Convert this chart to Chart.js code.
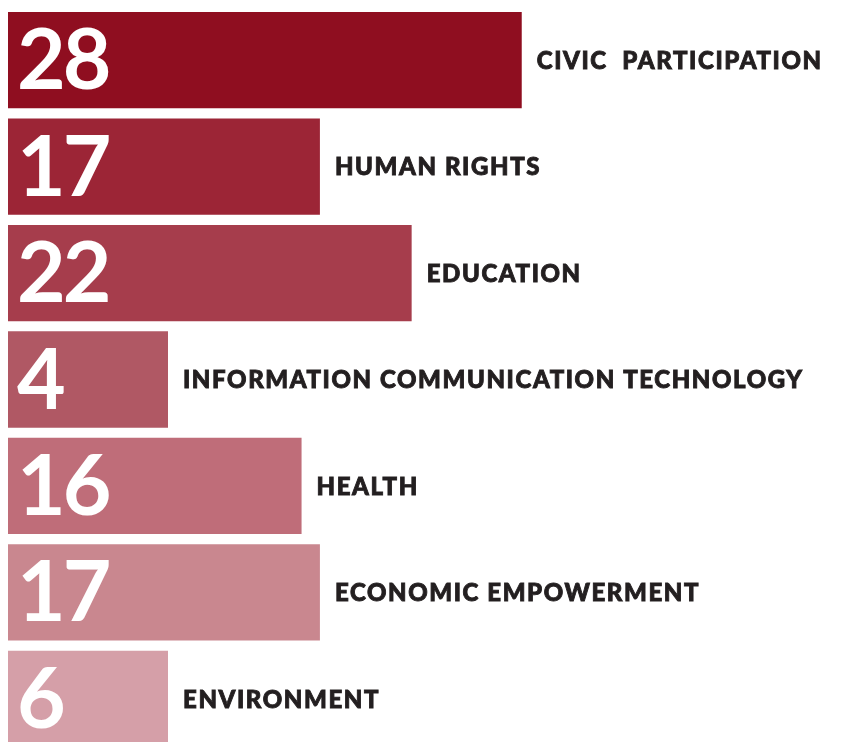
<!DOCTYPE html>
<html>
<head>
<meta charset="utf-8">
<style>
  html, body { margin: 0; padding: 0; background: #fff; overflow: hidden; }
  #wrap { position: relative; width: 852px; height: 752px; }
</style>
<script src="https://cdn.jsdelivr.net/npm/chart.js@4/dist/chart.umd.min.js"></script>
</head>
<body>
<div id="wrap"><canvas id="chart"></canvas></div>
<script>
  /* ---------- Data ---------- */
  var CATEGORIES = [
    'CIVIC  PARTICIPATION',
    'HUMAN RIGHTS',
    'EDUCATION',
    'INFORMATION COMMUNICATION TECHNOLOGY',
    'HEALTH',
    'ECONOMIC EMPOWERMENT',
    'ENVIRONMENT'
  ];
  var COUNTS = [28, 17, 22, 4, 16, 17, 6];
  var BAR_COLORS = ['#8f0e20', '#9c2536', '#a63d4c', '#b05864', '#bf6d79', '#c9878f', '#d59fa8'];

  /* ---------- Labels plugin ---------- */
  var barLabels = {
    id: 'barLabels',
    afterDatasetsDraw: function (chart) {
      var ctx = chart.ctx;
      var meta = chart.getDatasetMeta(0);
      ctx.save();
      ctx.textBaseline = 'middle';
      ctx.textAlign = 'left';
      meta.data.forEach(function (bar, i) {
        // big count inside bar
        ctx.fillStyle = '#ffffff';
        ctx.letterSpacing = '-3px';
        ctx.font = 'bold 84px Lato, "Open Sans", sans-serif';
        ctx.fillText(String(COUNTS[i]), bar.base + 9, bar.y + 2);
        // category name after the bar (stroked a little to look heavier)
        ctx.fillStyle = '#231f20';
        ctx.strokeStyle = '#231f20';
        ctx.lineWidth = 0.9;
        ctx.letterSpacing = '1.6px';
        ctx.font = '900 24px Lato, "Open Sans", sans-serif';
        ctx.fillText(CATEGORIES[i], bar.x + 15, bar.y + 1);
        ctx.strokeText(CATEGORIES[i], bar.x + 15, bar.y + 1);
      });
      ctx.restore();
    }
  };

  /* ---------- Chart ---------- */
  new Chart(document.getElementById('chart'), {
    type: 'bar',
    data: {
      labels: CATEGORIES,
      datasets: [{
        data: COUNTS,
        backgroundColor: BAR_COLORS,
        borderWidth: 0,
        categoryPercentage: 0.905,
        barPercentage: 1,
        minBarLength: 160
      }]
    },
    options: {
      indexAxis: 'y',
      responsive: true,
      maintainAspectRatio: false,
      animation: false,
      layout: { padding: { top: 7, left: 8, right: 0, bottom: 0 } },
      plugins: {
        legend: { display: false },
        tooltip: { enabled: false }
      },
      scales: {
        x: { display: false, min: 0, max: 46 },
        y: { display: false }
      }
    },
    plugins: [barLabels]
  });
</script>
</body>
</html>
